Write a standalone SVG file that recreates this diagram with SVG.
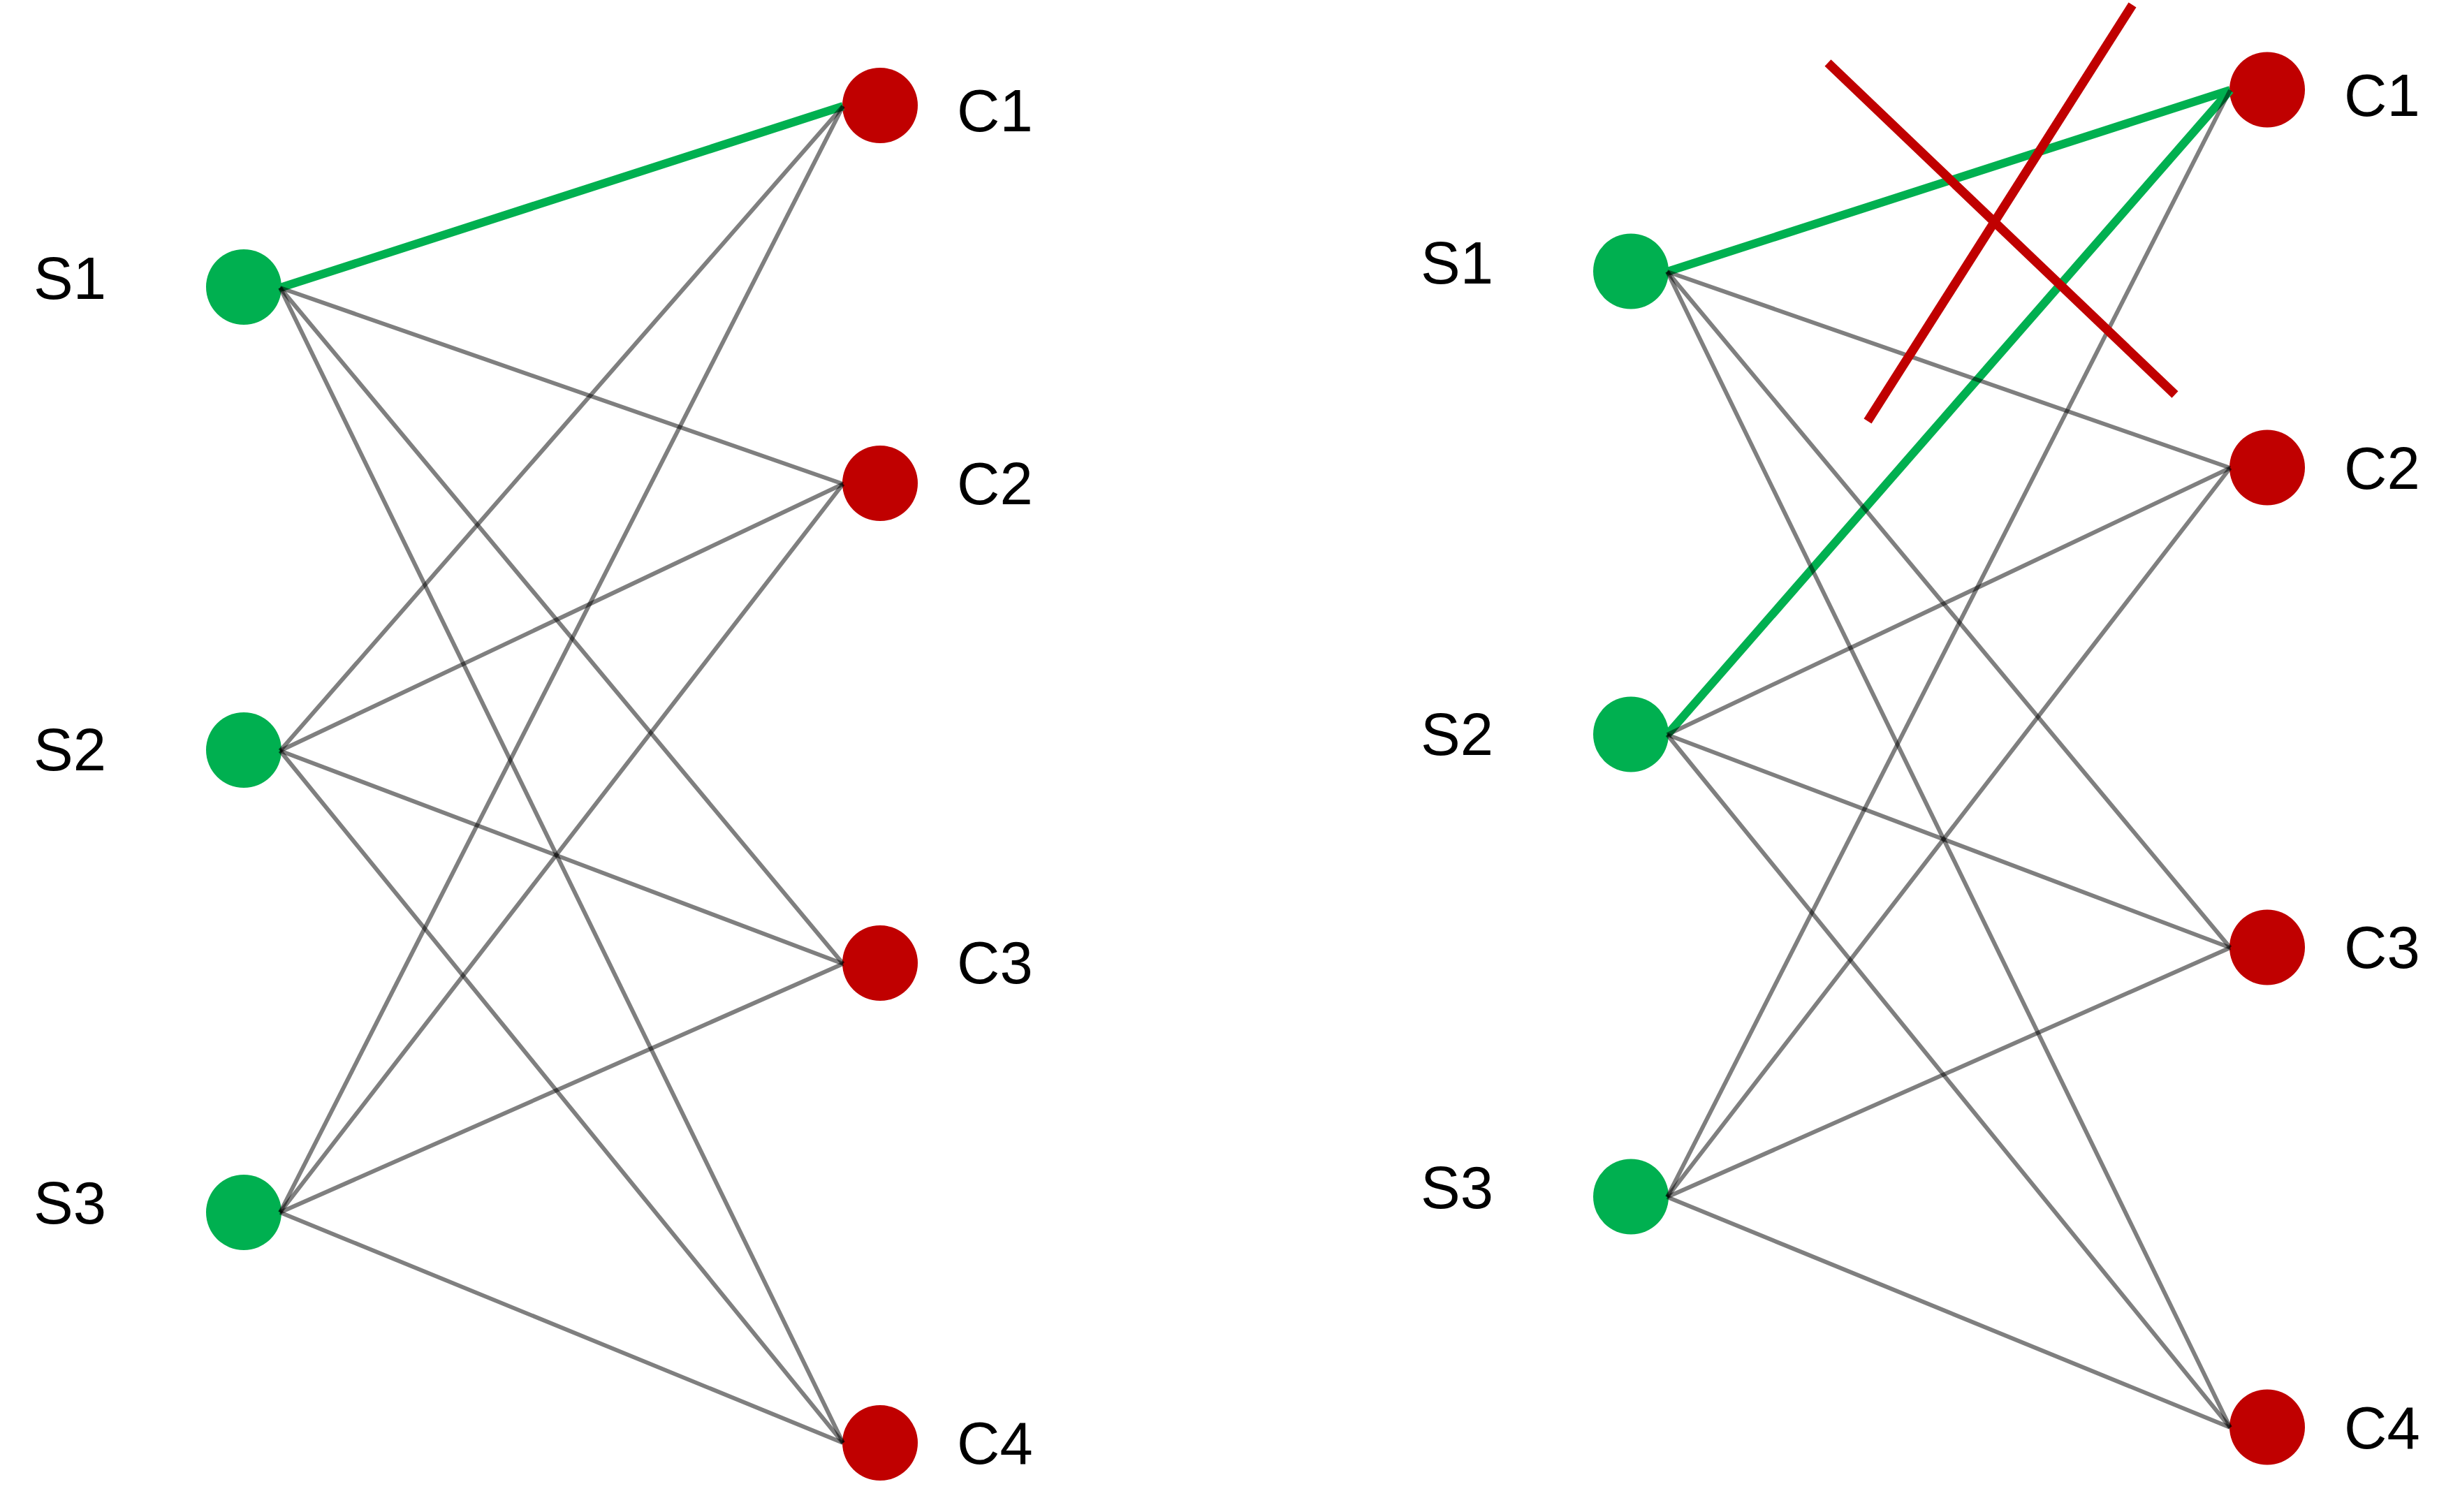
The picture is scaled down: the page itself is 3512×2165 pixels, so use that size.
<svg xmlns="http://www.w3.org/2000/svg" width="3512" height="2165" viewBox="0 0 3512 2165">
<style>
.bg{fill:#ffffff}
.s{fill:#00B050}
.c{fill:#C00000}
.lbl{font-family:"Liberation Sans",Arial,sans-serif;font-size:85px;fill:#000000}
.gray{stroke:#000000;stroke-opacity:0.5;stroke-width:6;fill:none}
.green{stroke:#00B050;stroke-width:12;fill:none}
.red{stroke:#C00000;stroke-width:13;fill:none}
</style>
<rect class="bg" x="0" y="0" width="3512" height="2165"/>
<g id="left-S1"><circle class="s" cx="349" cy="411" r="54"/><text class="lbl" x="48" y="428">S1</text></g>
<g id="left-S2"><circle class="s" cx="349" cy="1074" r="54"/><text class="lbl" x="48" y="1103">S2</text></g>
<g id="left-S3"><circle class="s" cx="349" cy="1736" r="54"/><text class="lbl" x="48" y="1752">S3</text></g>
<g id="left-C1"><circle class="c" cx="1260" cy="151" r="54"/><text class="lbl" x="1370" y="188">C1</text></g>
<g id="left-C2"><circle class="c" cx="1260" cy="692" r="54"/><text class="lbl" x="1370" y="722">C2</text></g>
<g id="left-C3"><circle class="c" cx="1260" cy="1379" r="54"/><text class="lbl" x="1370" y="1408">C3</text></g>
<g id="left-C4"><circle class="c" cx="1260" cy="2066" r="54"/><text class="lbl" x="1370" y="2096">C4</text></g>
<g id="right-S1"><circle class="s" cx="2335" cy="388.5" r="54"/><text class="lbl" x="2034" y="405.5">S1</text></g>
<g id="right-S2"><circle class="s" cx="2335" cy="1051.5" r="54"/><text class="lbl" x="2034" y="1080.5">S2</text></g>
<g id="right-S3"><circle class="s" cx="2335" cy="1713.5" r="54"/><text class="lbl" x="2034" y="1729.5">S3</text></g>
<g id="right-C1"><circle class="c" cx="3246" cy="128.5" r="54"/><text class="lbl" x="3356" y="165.5">C1</text></g>
<g id="right-C2"><circle class="c" cx="3246" cy="669.5" r="54"/><text class="lbl" x="3356" y="699.5">C2</text></g>
<g id="right-C3"><circle class="c" cx="3246" cy="1356.5" r="54"/><text class="lbl" x="3356" y="1385.5">C3</text></g>
<g id="right-C4"><circle class="c" cx="3246" cy="2043.5" r="54"/><text class="lbl" x="3356" y="2073.5">C4</text></g>
<g id="connectors">
<line class="green" x1="401" y1="412" x2="1207" y2="152"/>
<line class="gray" x1="401" y1="412" x2="1207" y2="693"/>
<line class="gray" x1="401" y1="412" x2="1207" y2="1380"/>
<line class="gray" x1="401" y1="412" x2="1207" y2="2066"/>
<line class="gray" x1="401" y1="1075" x2="1207" y2="152"/>
<line class="gray" x1="401" y1="1075" x2="1207" y2="693"/>
<line class="gray" x1="401" y1="1075" x2="1207" y2="1380"/>
<line class="gray" x1="401" y1="1075" x2="1207" y2="2066"/>
<line class="gray" x1="401" y1="1736" x2="1207" y2="152"/>
<line class="gray" x1="401" y1="1736" x2="1207" y2="693"/>
<line class="gray" x1="401" y1="1736" x2="1207" y2="1380"/>
<line class="gray" x1="401" y1="1736" x2="1207" y2="2066"/>
<line class="green" x1="2387" y1="389" x2="3193" y2="129"/>
<line class="green" x1="2387" y1="1052" x2="3193" y2="129"/>
<line class="gray" x1="2387" y1="389" x2="3193" y2="670"/>
<line class="gray" x1="2387" y1="389" x2="3193" y2="1357"/>
<line class="gray" x1="2387" y1="389" x2="3193" y2="2044"/>
<line class="gray" x1="2387" y1="1052" x2="3193" y2="670"/>
<line class="gray" x1="2387" y1="1052" x2="3193" y2="1357"/>
<line class="gray" x1="2387" y1="1052" x2="3193" y2="2044"/>
<line class="gray" x1="2387" y1="1714" x2="3193" y2="129"/>
<line class="gray" x1="2387" y1="1714" x2="3193" y2="670"/>
<line class="gray" x1="2387" y1="1714" x2="3193" y2="1357"/>
<line class="gray" x1="2387" y1="1714" x2="3193" y2="2044"/>
<line class="red" x1="2617" y1="90" x2="3114" y2="565"/>
<line class="red" x1="3053" y1="7" x2="2674" y2="603"/>
</g>
</svg>
